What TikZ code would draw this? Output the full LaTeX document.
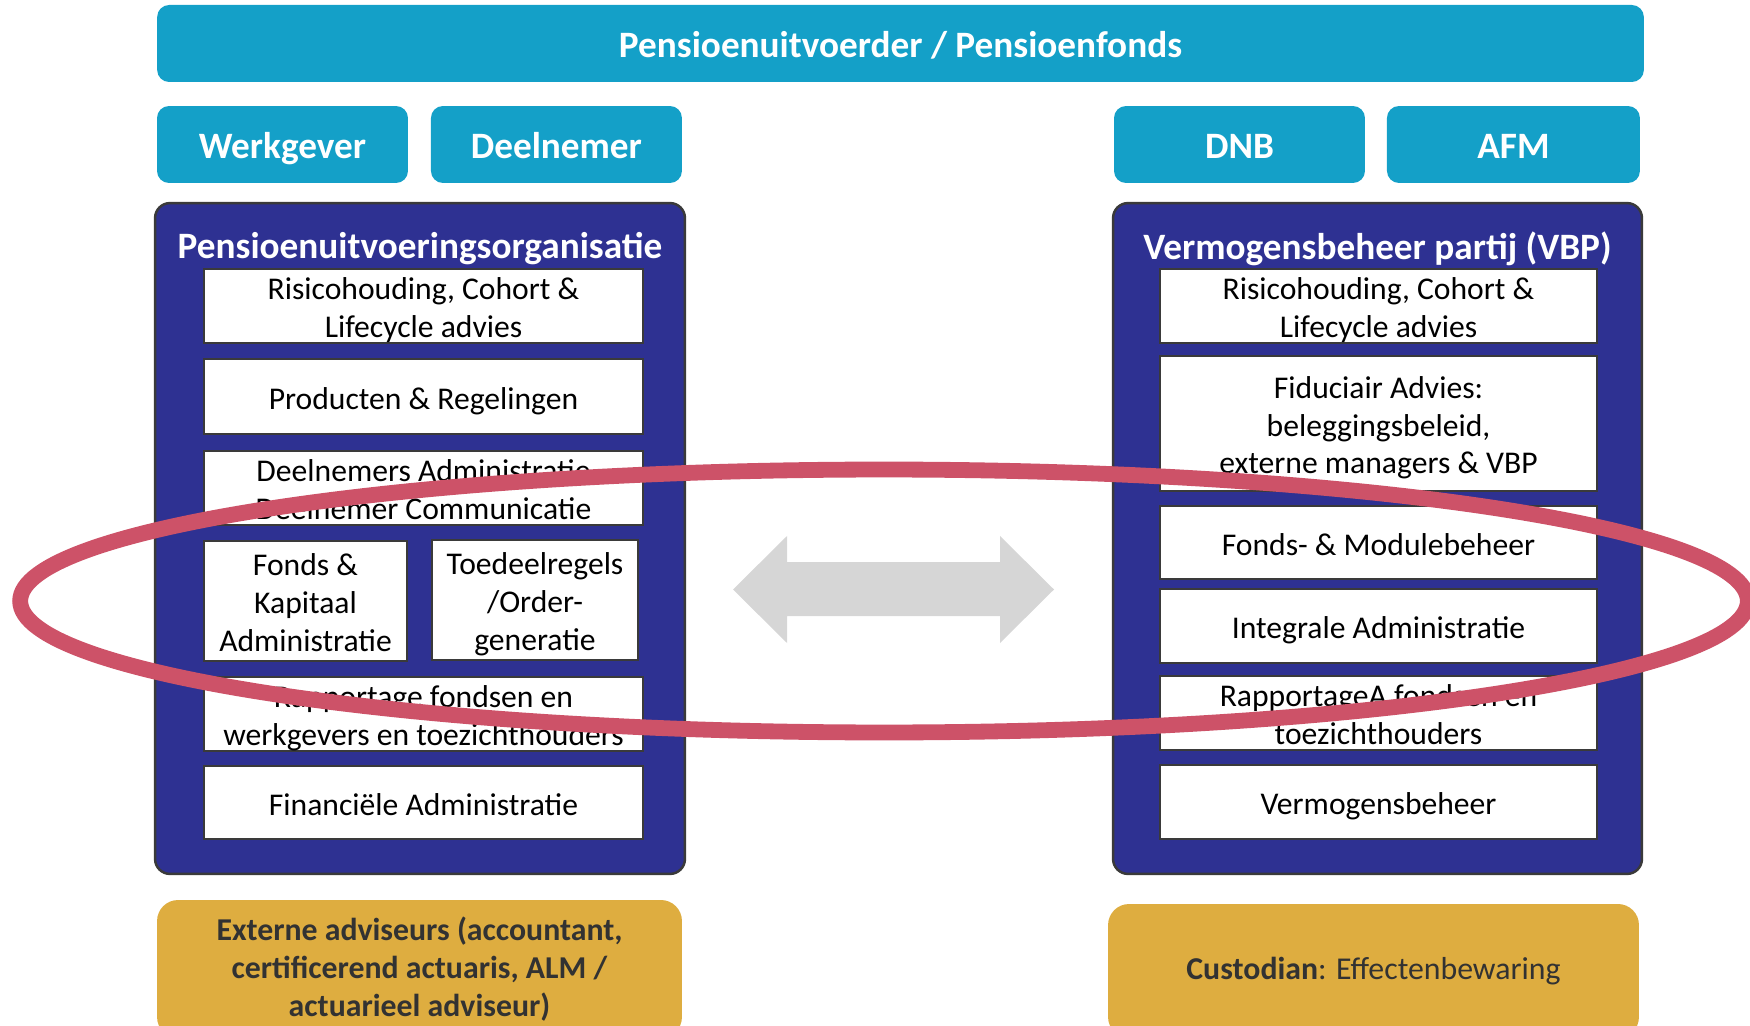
\documentclass[tikz,border=0pt]{standalone}
\usepackage{fontspec}
\setmainfont{Carlito}
\usepackage{tikz}
\usetikzlibrary{positioning}
\definecolor{pbteal}{RGB}{20,160,200}
\definecolor{pbnavy}{RGB}{46,49,146}
\definecolor{pbgold}{RGB}{222,173,64}
\definecolor{pbgray}{RGB}{58,58,58}
\definecolor{pbtext}{RGB}{50,50,50}
\definecolor{pbring}{RGB}{205,82,104}
\definecolor{pbarrow}{RGB}{214,214,214}

\begin{document}
\begin{tikzpicture}[x=0.02cm,y=-0.02cm,
	bar node/.style={rectangle, rounded corners=0.24cm, fill=pbteal, text=white, font=\bfseries\fontsize{21.2}{25}\selectfont, minimum height=1.54cm, inner sep=0pt, outer sep=0pt, text height=18.4pt, text depth=2.3pt},
	org node/.style={rectangle, rounded corners=0.3cm, draw=pbgray, line width=1.4pt, fill=pbnavy, minimum width=10.6cm, minimum height=13.42cm},
	head node/.style={text=white, font=\bfseries\fontsize{21.2}{25}\selectfont, inner sep=0pt},
	task node/.style={rectangle, draw=pbgray, line width=1.5pt, fill=white, align=center, inner sep=1pt, outer sep=0pt, font=\fontsize{18}{21.5}\selectfont, text height=14.5pt, text depth=0pt},
	two lines/.style={text height=36pt},
	three lines/.style={text height=57.5pt},
	gold node/.style={rectangle, rounded corners=0.42cm, fill=pbgold, text=pbtext, align=center, font=\fontsize{18.1}{21.5}\selectfont}]
	
	\useasboundingbox (0,0) rectangle (1750,1026);
	\clip (0,0) rectangle (1750,1026);
	
	% top row
	\node[bar node, minimum width=29.74cm] (fund) at (900.5,43.5) {Pensioenuitvoerder / Pensioenfonds};
	\node[bar node, minimum width=5.02cm] (wg) at (282.5,144.5) {Werkgever};
	\node[bar node, minimum width=5.02cm] (dn) [right=0.46cm of wg] {Deelnemer};
	\node[bar node, minimum width=5.02cm] (dnb) at (1239.5,144.5) {DNB};
	\node[bar node, minimum width=5.06cm] (afm) [right=0.44cm of dnb] {AFM};
	
	% left column
	\node[org node] (puo) at (420,538.5) {};
	\node[head node] (puotitle) at (420,249) {Pensioenuitvoeringsorganisatie};
	\node[task node, two lines, minimum width=8.78cm, minimum height=1.48cm] (l1) at (423.5,306) {Risicohouding, Cohort \&\\Lifecycle advies};
	\node[task node, minimum width=8.78cm, minimum height=1.5cm] (l2) [below=0.32cm of l1] {Producten \& Regelingen};
	\node[task node, two lines, minimum width=8.78cm, minimum height=1.48cm] (l3) [below=0.34cm of l2] {Deelnemers Administratie\\Deelnemer Communicatie};
	\node[task node, three lines, minimum width=4.06cm, minimum height=2.4cm] (l4) [below right=0.32cm and 0cm of l3.south west] {Fonds \&\\Kapitaal\\Administratie};
	\node[task node, three lines, minimum width=4.12cm, minimum height=2.4cm] (l4b) [below left=0.3cm and 0.1cm of l3.south east] {Toedeelregels\\/Order-\\generatie};
	\node[task node, two lines, minimum width=8.78cm, minimum height=1.48cm] (l5) [below right=0.32cm and 0cm of l4.south west] {Rapportage fondsen en\\werkgevers en toezichthouders};
	\node[task node, minimum width=8.78cm, minimum height=1.46cm] (l6) [below=0.3cm of l5] {Financiële Administratie};
	
	% right column
	\node[org node, minimum width=10.58cm] (vbp) at (1377.5,538.5) {};
	\node[head node] (vbptitle) at (1377.5,249) {Vermogensbeheer partij (VBP)};
	\node[task node, two lines, minimum width=8.74cm, minimum height=1.48cm] (r1) at (1378.5,306) {Risicohouding, Cohort \&\\Lifecycle advies};
	\node[task node, three lines, minimum width=8.74cm, minimum height=2.7cm] (r2) [below=0.26cm of r1] {Fiduciair Advies:\\beleggingsbeleid,\\externe managers \& VBP};
	\node[task node, minimum width=8.74cm, minimum height=1.46cm] (r3) [below=0.3cm of r2] {Fonds- \& Modulebeheer};
	\node[task node, minimum width=8.74cm, minimum height=1.48cm] (r4) [below=0.2cm of r3] {Integrale Administratie};
	\node[task node, two lines, minimum width=8.74cm, minimum height=1.48cm] (r5) [below=0.26cm of r4] {RapportageA fondsen en\\toezichthouders};
	\node[task node, minimum width=8.74cm, minimum height=1.48cm] (r6) [below=0.3cm of r5] {Vermogensbeheer};
	
	% bottom row
	\node[gold node, minimum width=10.5cm, minimum height=2.76cm, font=\bfseries\fontsize{18.1}{21.5}\selectfont] (adv) at (419.5,969) {Externe adviseurs (accountant,\\certificerend actuaris, ALM /\\actuarieel adviseur)};
	\node[gold node, minimum width=10.62cm, minimum height=2.68cm] (cust) at (1373.5,971) {\textbf{Custodian}: Effectenbewaring};
	
	% exchange arrow
	\fill[pbarrow] (733,589.5) -- (787,536) -- (787,562) -- (1000,562) -- (1000,536) -- (1054,589.5)
		-- (1000,643) -- (1000,616) -- (787,616) -- (787,643) -- cycle;
	
	% highlight
	\draw[pbring, line width=9pt] (884,601) ellipse [x radius=17.28cm, y radius=2.63cm];
	
\end{tikzpicture}
\end{document}
